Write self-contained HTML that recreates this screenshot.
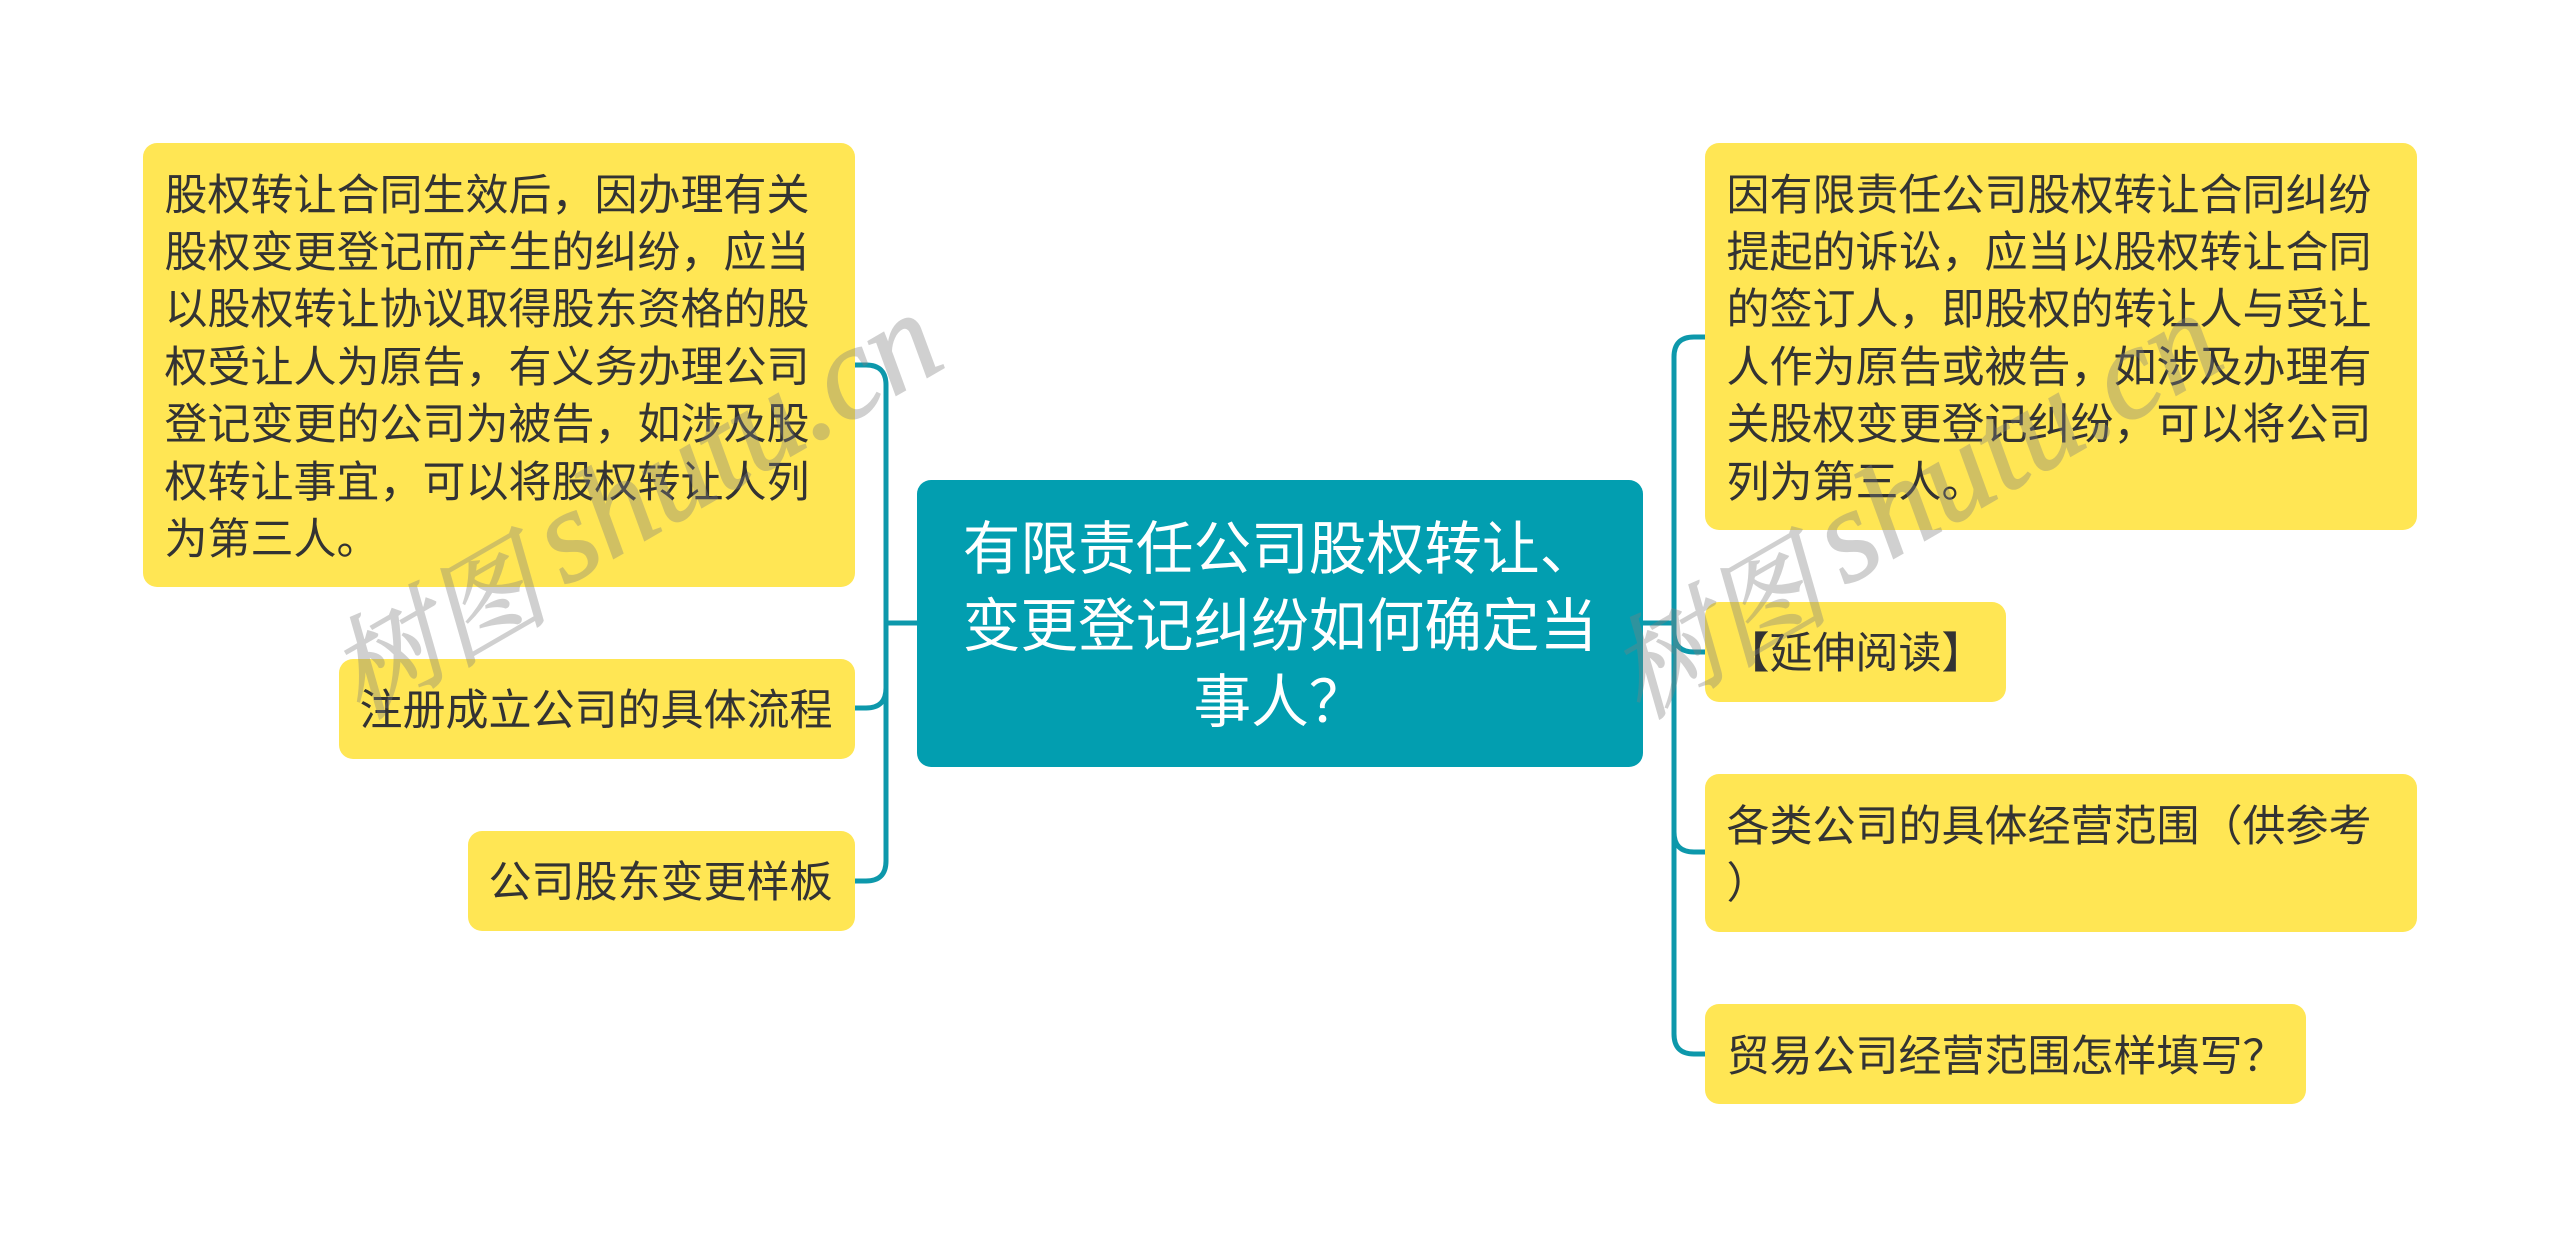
<!DOCTYPE html>
<html lang="zh"><head><meta charset="utf-8"><title>有限责任公司股权转让、变更登记纠纷如何确定当事人？</title>
<style>
html,body{margin:0;padding:0;background:#fff}
#p{position:relative;width:2560px;height:1247px;overflow:hidden;background:#fff;font-family:"Liberation Sans","Noto Sans CJK SC",sans-serif}
.b{position:absolute;background:#ffe654;border-radius:14px}
.c{position:absolute;background:#029eb0;border-radius:14px}
.t{position:absolute;white-space:nowrap;font-size:43px;line-height:57.4px;color:#333;font-family:"Noto Sans CJK SC",sans-serif;font-weight:400}
.h{position:absolute;left:917px;width:726px;text-align:center;white-space:nowrap;font-size:57.7px;line-height:76.5px;color:#fff;font-family:"Noto Sans CJK SC",sans-serif}
svg{position:absolute;left:0;top:0}
.w{font-family:"Liberation Serif","Noto Serif CJK SC",serif;font-style:italic;font-weight:400;font-size:132px;fill:#808080;stroke:#808080;stroke-width:1.5px;opacity:.36}
.k{font-size:111px}
</style></head><body><div id="p">
<svg width="2560" height="1247" fill="none" stroke="#0d98ab" stroke-width="5">
<path d="M855 365H866Q886 365 886 385V861Q886 881 866 881H855"/>
<path d="M855 708H866Q886 708 886 688"/>
<path d="M886 623H917"/>
<path d="M1705 337H1694Q1674 337 1674 357V1034Q1674 1054 1694 1054H1705"/>
<path d="M1642 623H1674"/>
<path d="M1674 632Q1674 652 1694 652H1705"/>
<path d="M1674 832Q1674 852 1694 852H1705"/>
</svg>
<div class="b" style="left:143px;top:143px;width:712px;height:444px"></div>
<div class="t" style="left:164.5px;top:163.5px">股权转让合同生效后，因办理有关</div>
<div class="t" style="left:164.5px;top:220.9px">股权变更登记而产生的纠纷，应当</div>
<div class="t" style="left:164.5px;top:278.3px">以股权转让协议取得股东资格的股</div>
<div class="t" style="left:164.5px;top:335.7px">权受让人为原告，有义务办理公司</div>
<div class="t" style="left:164.5px;top:393.1px">登记变更的公司为被告，如涉及股</div>
<div class="t" style="left:164.5px;top:450.5px">权转让事宜，可以将股权转让人列</div>
<div class="t" style="left:164.5px;top:507.9px">为第三人。</div>
<div class="b" style="left:339px;top:659px;width:516px;height:100px"></div>
<div class="t" style="left:359.5px;top:679px">注册成立公司的具体流程</div>
<div class="b" style="left:468px;top:831px;width:387px;height:100px"></div>
<div class="t" style="left:488.5px;top:851px">公司股东变更样板</div>
<div class="c" style="left:917px;top:480px;width:726px;height:287px"></div>
<div class="h" style="top:506px">有限责任公司股权转让、</div>
<div class="h" style="top:582.5px">变更登记纠纷如何确定当</div>
<div class="h" style="top:659px">事人？</div>
<div class="b" style="left:1705px;top:143px;width:712px;height:387px"></div>
<div class="t" style="left:1726.5px;top:163.5px">因有限责任公司股权转让合同纠纷</div>
<div class="t" style="left:1726.5px;top:220.9px">提起的诉讼，应当以股权转让合同</div>
<div class="t" style="left:1726.5px;top:278.3px">的签订人，即股权的转让人与受让</div>
<div class="t" style="left:1726.5px;top:335.7px">人作为原告或被告，如涉及办理有</div>
<div class="t" style="left:1726.5px;top:393.1px">关股权变更登记纠纷，可以将公司</div>
<div class="t" style="left:1726.5px;top:450.5px">列为第三人。</div>
<div class="b" style="left:1705px;top:602px;width:301px;height:100px"></div>
<div class="t" style="left:1726.5px;top:622px">【延伸阅读】</div>
<div class="b" style="left:1705px;top:774px;width:712px;height:158px"></div>
<div class="t" style="left:1726.5px;top:795px">各类公司的具体经营范围（供参考</div>
<div class="t" style="left:1726.5px;top:852.4px">）</div>
<div class="b" style="left:1705px;top:1004px;width:601px;height:100px"></div>
<div class="t" style="left:1726.5px;top:1025px">贸易公司经营范围怎样填写？</div>
<svg width="2560" height="1247">
<text class="w k" transform="translate(360,720) rotate(-30)">树图</text>
<text class="w" transform="translate(565,586.5) rotate(-30)">shutu.cn</text>
<text class="w k" transform="translate(1640,720) rotate(-30)">树图</text>
<text class="w" transform="translate(1845,586.5) rotate(-30)">shutu.cn</text>
</svg>
</div></body></html>
